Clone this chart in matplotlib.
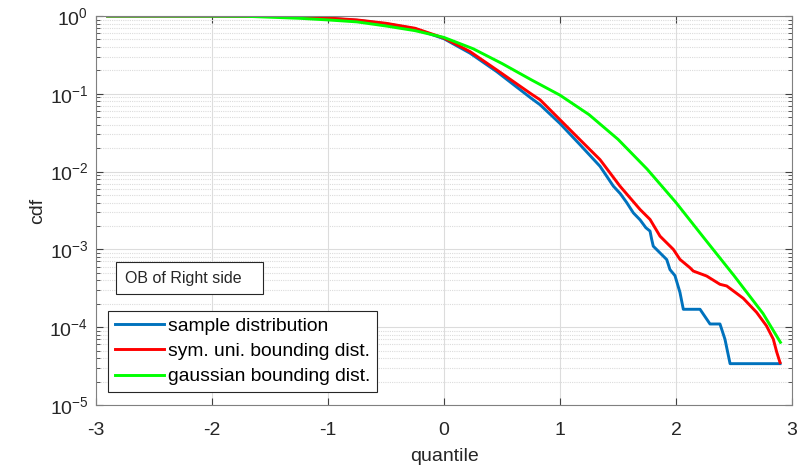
import math

import matplotlib
matplotlib.use("Agg")
import matplotlib.pyplot as plt
from matplotlib.patches import Rectangle
from matplotlib.ticker import LogLocator, NullFormatter, FuncFormatter

plt.rcParams["font.family"] = ["Liberation Sans", "DejaVu Sans"]
plt.rcParams["mathtext.fontset"] = "custom"
plt.rcParams["mathtext.rm"] = "Liberation Sans"
plt.rcParams["mathtext.it"] = "Liberation Sans:italic"
plt.rcParams["axes.unicode_minus"] = False

# sample distribution
sample_x = [-2.9, -2.0, -1.5, -1.25, -1.0, -0.75, -0.5, -0.25, 0.0, 0.224, 0.454,
            0.75, 0.828, 1.0, 1.172, 1.345, 1.46, 1.52, 1.575, 1.632, 1.69, 1.74,
            1.776, 1.79, 1.804, 1.876, 1.92, 1.948, 1.991, 2.034, 2.063, 2.207,
            2.293, 2.379, 2.422, 2.466, 2.897]
sample_y = [1.0, 0.999, 0.99, 0.965, 0.935, 0.88, 0.795, 0.685, 0.51, 0.333, 0.193,
            0.088, 0.0723, 0.0415, 0.0222, 0.0117, 0.0065, 0.0052, 0.0040, 0.00295,
            0.0024, 0.0019, 0.00172, 0.00135, 0.0011, 0.00086, 0.00074, 0.00055,
            0.00046, 0.00028, 0.00017, 0.00017, 0.00011, 0.00011, 7.0e-5, 3.4e-5,
            3.4e-5]

# symmetric uniform bounding distribution
sym_x = [-2.9, -2.0, -1.5, -1.25, -1.0, -0.75, -0.5, -0.25, 0.0, 0.224, 0.454, 0.75,
         0.828, 1.0, 1.172, 1.345, 1.517, 1.69, 1.776, 1.862, 1.977, 2.034, 2.121,
         2.149, 2.264, 2.379, 2.437, 2.58, 2.695, 2.78, 2.839, 2.868, 2.897]
sym_y = [1.0, 0.999, 0.99, 0.97, 0.94, 0.89, 0.806, 0.696, 0.52, 0.349, 0.203, 0.1,
         0.0838, 0.0464, 0.0257, 0.01425, 0.0065, 0.00326, 0.00243, 0.00148, 0.0010,
         0.000744, 0.00058, 0.000527, 0.000455, 0.000356, 0.000339, 0.000235,
         0.000155, 0.000104, 7.0e-5, 4.8e-5, 3.5e-5]

# gaussian bounding distribution
gauss_x = [-2.9, -2.5, -2.0, -1.7, -1.5, -1.25, -1.0, -0.75, -0.5, -0.25, 0.0, 0.25,
           0.5, 0.75, 1.0, 1.25, 1.5, 1.75, 2.0, 2.25, 2.5, 2.75, 2.9]
gauss_y = [1.0, 1.0, 0.997, 0.99, 0.965, 0.935, 0.89, 0.84, 0.744, 0.648, 0.53, 0.38,
           0.245, 0.152, 0.096, 0.054, 0.026, 0.0108, 0.0040, 0.00135, 0.00046,
           0.00015, 6.4e-5]

labels = ["sample distribution", "sym. uni. bounding dist.", "gaussian bounding dist."]
colors = ["#0072BD", "#FF0000", "#00FF00"]

fig = plt.figure(figsize=(7.98, 4.65), dpi=100)
ax = fig.add_axes([0.1203, 0.129, 0.8722, 0.8366])

for xs, ys, lab, col in zip([sample_x, sym_x, gauss_x], [sample_y, sym_y, gauss_y],
                            labels, colors):
    ax.plot(xs, ys, color=col, lw=2.1, label=lab)

ax.set_yscale("log")
ax.set_xlim(-3, 3)
ax.set_ylim(1e-5, 1)
ax.set_xticks(range(-3, 4))
ax.yaxis.set_major_locator(LogLocator(base=10, numticks=10))
ax.yaxis.set_minor_locator(LogLocator(base=10, subs=range(2, 10), numticks=50))
ax.yaxis.set_minor_formatter(NullFormatter())
ax.yaxis.set_major_formatter(FuncFormatter(lambda v, p: "$10^{%d}$" % round(math.log10(v))))

ax.grid(True, which="major", color="#dcdcdc", lw=0.8)
ax.grid(True, which="minor", axis="y", color="#dcdcdc", lw=0.8, ls=(0, (1, 1)))
ax.set_axisbelow(True)

ax.tick_params(which="both", direction="in", top=True, right=True,
               colors="#404040", labelcolor="#262626", labelsize=14)
ax.tick_params(which="major", length=5)
ax.tick_params(which="minor", length=3)
ax.tick_params(axis="x", pad=12.5)
ax.tick_params(axis="y", pad=5.5)
for sp in ax.spines.values():
    sp.set_color("#808080")
    sp.set_linewidth(0.8)

ax.set_xlabel("quantile", fontsize=14, color="#262626", labelpad=6.5)
ax.set_ylabel("cdf", fontsize=14, color="#262626", labelpad=2)

leg = ax.legend(loc="lower left", bbox_to_anchor=(0.017, 0.033), borderaxespad=0,
                fontsize=13.9, handlelength=2.55, handletextpad=0.2, labelspacing=0.4,
                fancybox=False, framealpha=1, borderpad=0.35)
leg.get_frame().set_edgecolor("#262626")
leg.get_frame().set_linewidth(0.8)

ax.add_patch(Rectangle((0.0287, 0.2853), 0.2112, 0.0823, transform=ax.transAxes,
                       facecolor="white", edgecolor="#262626", lw=0.8, zorder=5))
ax.text(0.0417, 0.3265, "OB of Right side", transform=ax.transAxes, fontsize=11.5,
        va="center", ha="left", color="#262626", zorder=6)

fig.savefig("out.png", dpi=100)
